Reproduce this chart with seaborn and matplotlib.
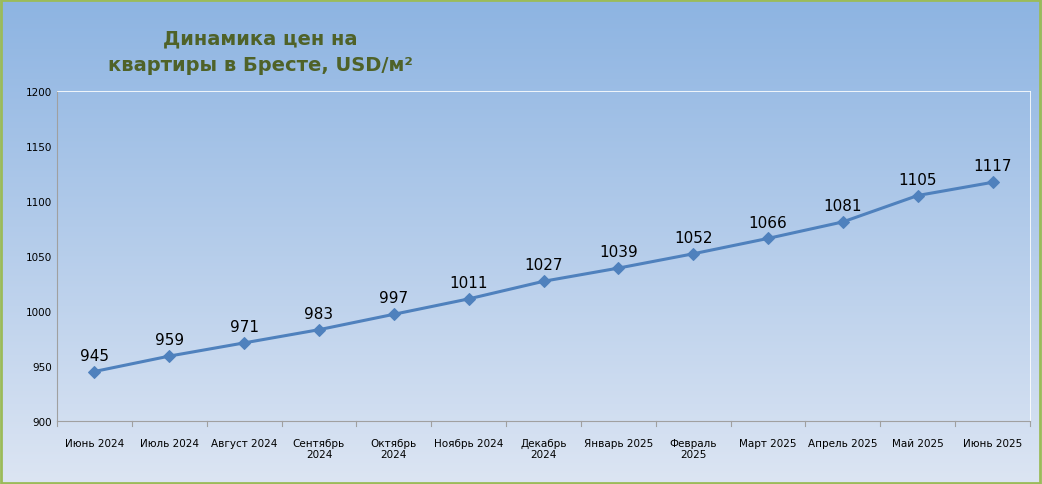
import numpy as np
import pandas as pd
import matplotlib
matplotlib.use("Agg")
import matplotlib.pyplot as plt
import seaborn as sns
from matplotlib.colors import LinearSegmentedColormap

categories = ["Июнь 2024", "Июль 2024", "Август 2024", "Сентябрь\n2024", "Октябрь\n2024",
              "Ноябрь 2024", "Декабрь\n2024", "Январь 2025", "Февраль\n2025", "Март 2025",
              "Апрель 2025", "Май 2025", "Июнь 2025"]
values = [945, 959, 971, 983, 997, 1011, 1027, 1039, 1052, 1066, 1081, 1105, 1117]
yticks = [900, 950, 1000, 1050, 1100, 1150, 1200]

df = pd.DataFrame({"x": range(len(categories)), "price": values})

fig = plt.figure(figsize=(10.42, 4.85), dpi=100)
bg = fig.add_axes([0, 0, 1, 1], zorder=-10)
cmap = LinearSegmentedColormap.from_list("g", ["#8DB4E2", "#DCE5F3"])
bg.imshow(np.linspace(0, 1, 256).reshape(-1, 1), aspect="auto", cmap=cmap, extent=[0, 1, 0, 1])
bg.set_xlim(0, 1); bg.set_ylim(0, 1); bg.axis("off")
bg.add_patch(plt.Rectangle((0.001, 0.002), 0.997, 0.995, fill=False, ec="#9BBB59", lw=2))

ax = fig.add_axes([57/1042, 1-422/485, (1030-57)/1042, (422-92)/485])
ax.patch.set_alpha(0)
sns.lineplot(data=df, x="x", y="price", ax=ax, color="#4F81BD", lw=2.2,
             marker="D", markersize=6, markeredgecolor="#4F81BD")
for i, v in enumerate(values):
    ax.text(i, v + 8, str(v), ha="center", va="bottom", fontsize=11, color="black")
ax.set_xlim(-0.5, len(categories) - 0.5)
ax.set_ylim(900, 1200)
ax.set_yticks(yticks)
ax.set_xticks(range(len(categories)))
ax.set_xticklabels(categories, fontsize=7.5)
ax.tick_params(axis="y", labelsize=7.5, length=0)
ax.tick_params(axis="x", length=0, pad=12)
for b in np.arange(-0.5, len(categories), 1):
    ax.plot([b, b], [900, 895], color="#A0A0A0", lw=0.8, clip_on=False)
ax.set_xlabel(""); ax.set_ylabel("")
for s in ["top", "right"]:
    ax.spines[s].set_color("white"); ax.spines[s].set_linewidth(0.6)
ax.spines["left"].set_color("#A0A0A0"); ax.spines["bottom"].set_color("#A0A0A0")
ax.spines["left"].set_linewidth(0.8); ax.spines["bottom"].set_linewidth(0.8)

fig.text(260/1042, 1-52/485, "Динамика цен на\nквартиры в Бресте, USD/м²", ha="center",
         va="center", fontsize=14, fontweight="bold", color="#4F6228", linespacing=1.5)
fig.savefig("out.png", dpi=100)
